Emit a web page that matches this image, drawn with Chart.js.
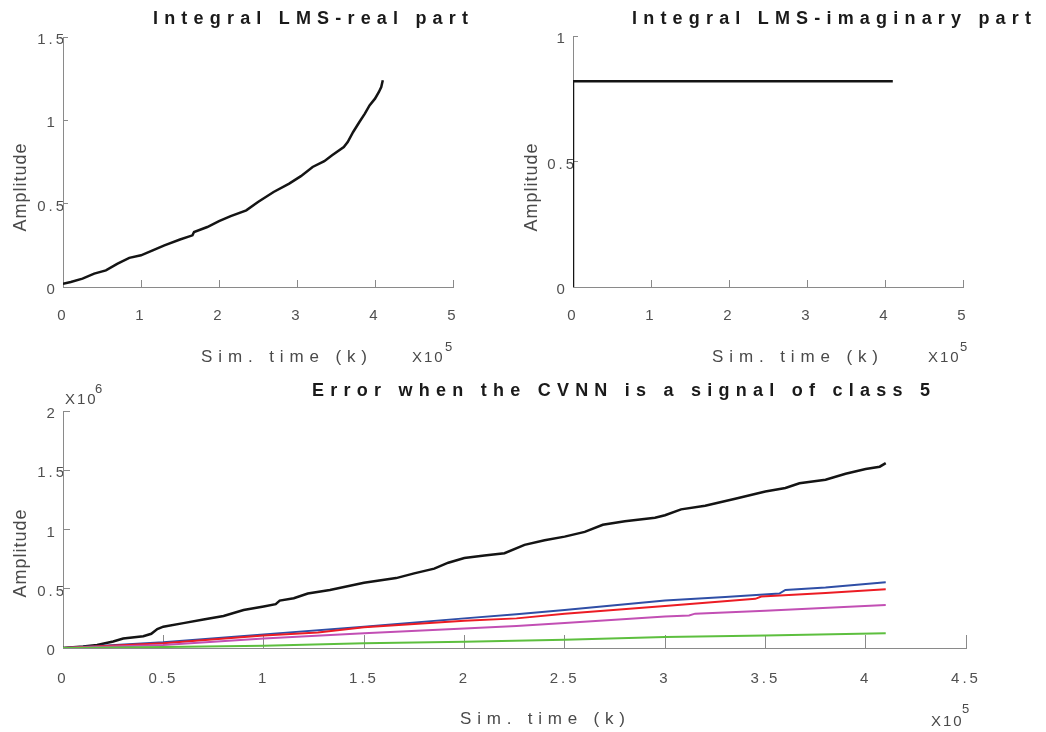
<!DOCTYPE html>
<html>
<head>
<meta charset="utf-8">
<script src="https://cdn.jsdelivr.net/npm/chart.js@4.4.1/dist/chart.umd.min.js"></script>
<style>
  html, body { margin: 0; padding: 0; background: #ffffff; }
  #wrap { position: relative; width: 1046px; height: 732px; overflow: hidden; background: #ffffff; }
  #wrap canvas { position: absolute; left: 0; top: 0; }
</style>
</head>
<body>
<div id="wrap">
  <canvas id="realPart" width="1046" height="732"></canvas>
  <canvas id="imagPart" width="1046" height="732"></canvas>
  <canvas id="errorPlot" width="1046" height="732"></canvas>
</div>
<script>
// ---- Integral LMS, real part (time in units of 1e5) ----
const realTime = [0, 0.1, 0.25, 0.4, 0.55, 0.7, 0.85, 1.0, 1.15, 1.3, 1.5, 1.66, 1.68, 1.85, 2.0, 2.15, 2.35,
  2.5, 2.7, 2.9, 3.05, 3.2, 3.35, 3.45, 3.6, 3.65, 3.72, 3.8, 3.87, 3.93, 4.0, 4.05, 4.08, 4.1];
const realAmp = [0.02, 0.03, 0.05, 0.08, 0.10, 0.14, 0.175, 0.19, 0.22, 0.25, 0.285, 0.31, 0.33, 0.36, 0.395, 0.425, 0.46,
  0.51, 0.57, 0.62, 0.665, 0.72, 0.755, 0.79, 0.84, 0.87, 0.93, 0.99, 1.04, 1.09, 1.13, 1.17, 1.2, 1.24];

// ---- Integral LMS, imaginary part ----
const imagTime = [0, 0, 4.1];
const imagAmp = [0, 0.82, 0.82];

// ---- Error curves (time in 1e5, amplitude in 1e6) ----
const blackTime = [0, 0.1, 0.17, 0.25, 0.3, 0.4, 0.44, 0.47, 0.5, 0.6, 0.7, 0.8, 0.9, 1.0, 1.06, 1.08, 1.15, 1.22,
  1.33, 1.5, 1.66, 1.75, 1.85, 1.92, 2.0, 2.1, 2.2, 2.3, 2.4, 2.5, 2.6, 2.69, 2.8, 2.95, 3.0, 3.08, 3.2, 3.35,
  3.5, 3.6, 3.67, 3.8, 3.9, 4.0, 4.07, 4.1];
const blackAmp = [0, 0.012, 0.025, 0.055, 0.08, 0.10, 0.12, 0.16, 0.18, 0.21, 0.24, 0.27, 0.32, 0.35, 0.37, 0.40, 0.42, 0.46,
  0.49, 0.55, 0.59, 0.63, 0.67, 0.72, 0.76, 0.78, 0.80, 0.87, 0.91, 0.94, 0.98, 1.04, 1.07, 1.10, 1.12, 1.17, 1.20, 1.26,
  1.32, 1.35, 1.39, 1.42, 1.47, 1.51, 1.53, 1.56];

const blueTime = [0, 0.5, 1.0, 1.5, 2.0, 2.26, 2.5, 2.75, 3.0, 3.3, 3.57, 3.6, 3.8, 4.1];
const blueAmp = [0, 0.048, 0.115, 0.18, 0.25, 0.285, 0.32, 0.36, 0.40, 0.43, 0.46, 0.49, 0.51, 0.555];

const redTime = [0, 0.5, 1.0, 1.27, 1.5, 2.0, 2.26, 2.5, 3.0, 3.45, 3.48, 3.8, 4.1];
const redAmp = [0, 0.04, 0.105, 0.13, 0.175, 0.23, 0.25, 0.29, 0.355, 0.415, 0.435, 0.465, 0.495];

const magentaTime = [0, 0.5, 1.0, 1.5, 2.0, 2.26, 2.5, 3.0, 3.12, 3.15, 3.5, 4.1];
const magentaAmp = [0, 0.025, 0.08, 0.125, 0.165, 0.185, 0.21, 0.265, 0.275, 0.29, 0.315, 0.363];

const greenTime = [0, 0.5, 1.0, 1.5, 2.0, 2.5, 3.0, 3.5, 4.1];
const greenAmp = [0, 0.008, 0.02, 0.04, 0.053, 0.07, 0.093, 0.105, 0.124];

// ---- tick labels ----
const topXTicks = [0, 1, 2, 3, 4, 5];
const realYTicks = [0, 0.5, 1, 1.5];
const imagYTicks = [0, 0.5, 1];
const errXTicks = [0, 0.5, 1, 1.5, 2, 2.5, 3, 3.5, 4, 4.5];
const errYTicks = [0, 0.5, 1, 1.5, 2];

// ---- texts ----
const realTitle = 'Integral LMS-real part';
const imagTitle = 'Integral LMS-imaginary part';
const errTitle = 'Error when the CVNN is a signal of class 5';
const yTitle = 'Amplitude';
const xTitle = 'Sim. time (k)';

Chart.defaults.font.family = "'Liberation Sans', Arial, Helvetica, sans-serif";

const AXIS_GRAY = '#8a8a8a';
const TICK_GRAY = '#505050';
const LABEL_GRAY = '#4a4a4a';

const toPoints = (xs, ys) => xs.map((x, i) => ({ x: x, y: ys[i] }));

// Spaced-out tick labels, applied before measuring and before drawing.
const tickSpacing = {
  id: 'tickSpacing',
  beforeLayout(chart) { chart.ctx.letterSpacing = '3px'; },
  beforeDraw(chart) { chart.ctx.letterSpacing = '3px'; }
};

function drawText(ctx, item) {
  ctx.save();
  ctx.font = item.font;
  ctx.fillStyle = item.color || LABEL_GRAY;
  let spacing = item.spacing || 0;
  if (item.right !== undefined) {
    ctx.letterSpacing = '0px';
    const w = ctx.measureText(item.text).width;
    const n = Array.from(item.text).length;
    spacing = (item.right - item.left - w) / (n - 1);
  }
  ctx.letterSpacing = spacing + 'px';
  if (item.rotate) {
    ctx.translate(item.cx, item.cy);
    ctx.rotate(-Math.PI / 2);
    ctx.textAlign = 'center';
    ctx.textBaseline = 'middle';
    ctx.fillText(item.text, 0, 0);
  } else {
    ctx.textAlign = 'left';
    ctx.textBaseline = 'alphabetic';
    ctx.fillText(item.text, item.left, item.baseline);
  }
  ctx.restore();
}

const panelText = {
  id: 'panelText',
  afterDraw(chart, args, opts) {
    (opts.items || []).forEach(it => drawText(chart.ctx, it));
  }
};

function axis(tickValues, min, max, tickLen, pad, isY) {
  return {
    type: 'linear',
    min: min,
    max: max,
    afterBuildTicks: s => { s.ticks = tickValues.map(v => ({ value: v })); },
    afterFit: s => { if (isY) { s.width = 40; } else { s.height = 40; } },
    grid: { drawOnChartArea: false, drawTicks: true, tickLength: -tickLen, color: AXIS_GRAY, lineWidth: 1 },
    border: { display: true, color: AXIS_GRAY, width: 1 },
    ticks: {
      padding: pad,
      color: TICK_GRAY,
      font: { size: 15 },
      autoSkip: false,
      maxRotation: 0,
      minRotation: 0,
      labelOffset: isY ? 3 : 0,
      crossAlign: isY ? 'center' : 'near',
      callback: v => String(v)
    }
  };
}

function line(points, color, width) {
  return {
    data: points,
    borderColor: color,
    backgroundColor: color,
    borderWidth: width,
    pointRadius: 0,
    tension: 0,
    fill: false
  };
}

function panel(id, padding, xs, ys, datasets, texts) {
  return new Chart(document.getElementById(id), {
    type: 'line',
    data: { datasets: datasets },
    options: {
      responsive: false,
      animation: false,
      events: [],
      layout: { padding: padding },
      scales: { x: xs, y: ys },
      plugins: {
        legend: { display: false },
        tooltip: { enabled: false },
        title: { display: false },
        panelText: { items: texts }
      }
    },
    plugins: [tickSpacing, panelText]
  });
}

const TITLE_FONT = 'bold 18px "Liberation Sans", Arial, sans-serif';
const AXIS_FONT = '17px "Liberation Sans", Arial, sans-serif';
const YLABEL_FONT = '18px "Liberation Sans", Arial, sans-serif';
const EXP_FONT = '15px "Liberation Sans", Arial, sans-serif';
const SUP_FONT = '13px "Liberation Sans", Arial, sans-serif';

// Upper left: real part
panel('realPart',
  { left: 23, top: 37, right: 593, bottom: 405 },
  axis(topXTicks, 0, 5, 7, 27, false),
  axis(realYTicks, 0, 1.5, 5, 1, true),
  [line(toPoints(realTime, realAmp), '#141414', 2.5)],
  [
    { text: realTitle, font: TITLE_FONT, color: '#1a1a1a', left: 153, right: 468, baseline: 24 },
    { text: yTitle, font: YLABEL_FONT, spacing: 1, rotate: true, cx: 21, cy: 187 },
    { text: xTitle, font: AXIS_FONT, left: 201, right: 367, baseline: 362 },
    { text: 'X10', font: EXP_FONT, spacing: 2, left: 412, baseline: 362 },
    { text: '5', font: SUP_FONT, left: 445, baseline: 351 }
  ]);

// Upper right: imaginary part
panel('imagPart',
  { left: 533, top: 36, right: 83, bottom: 405 },
  axis(topXTicks, 0, 5, 7, 27, false),
  axis(imagYTicks, 0, 1, 5, 1, true),
  [line(toPoints(imagTime, imagAmp), '#141414', 2.5)],
  [
    { text: imagTitle, font: TITLE_FONT, color: '#1a1a1a', left: 632, right: 1031, baseline: 24 },
    { text: yTitle, font: YLABEL_FONT, spacing: 1, rotate: true, cx: 532, cy: 187 },
    { text: xTitle, font: AXIS_FONT, left: 712, right: 878, baseline: 362 },
    { text: 'X10', font: EXP_FONT, spacing: 2, left: 928, baseline: 362 },
    { text: '5', font: SUP_FONT, left: 960, baseline: 351 }
  ]);

// Bottom: error curves
panel('errorPlot',
  { left: 23, top: 411, right: 80, bottom: 44 },
  axis(errXTicks, 0, 4.5, 13, 35, false),
  axis(errYTicks, 0, 2, 7, 3, true),
  [
    line(toPoints(greenTime, greenAmp), '#5dbf3f', 2),
    line(toPoints(magentaTime, magentaAmp), '#c24fb4', 2),
    line(toPoints(redTime, redAmp), '#ec1c24', 2),
    line(toPoints(blueTime, blueAmp), '#2f4ea6', 2),
    line(toPoints(blackTime, blackAmp), '#141414', 2.5)
  ],
  [
    { text: errTitle, font: TITLE_FONT, color: '#1a1a1a', left: 312, right: 930, baseline: 396 },
    { text: yTitle, font: YLABEL_FONT, spacing: 1, rotate: true, cx: 21, cy: 553 },
    { text: xTitle, font: AXIS_FONT, left: 460, right: 625, baseline: 724 },
    { text: 'X10', font: EXP_FONT, spacing: 2, left: 931, baseline: 726 },
    { text: '5', font: SUP_FONT, left: 962, baseline: 713 },
    { text: 'X10', font: EXP_FONT, spacing: 2, left: 65, baseline: 404 },
    { text: '6', font: SUP_FONT, left: 95, baseline: 393 }
  ]);
</script>
</body>
</html>
